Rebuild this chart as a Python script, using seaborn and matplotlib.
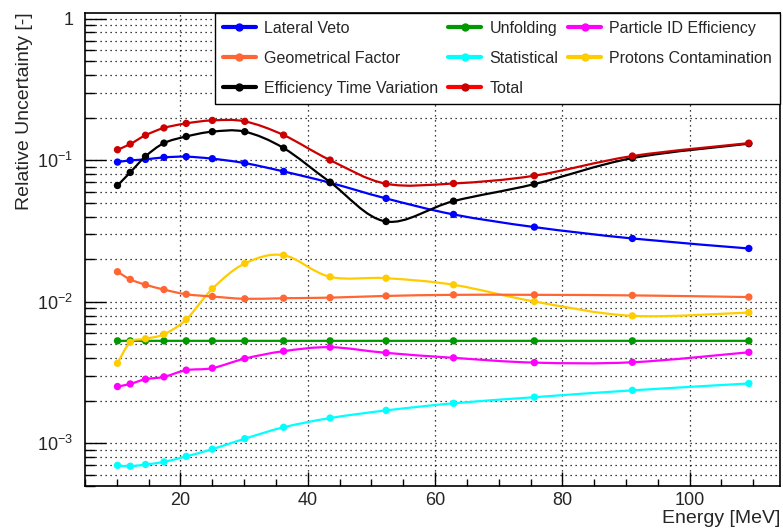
"""Incertezas relativas vs energia, estilo ROOT, com seaborn/matplotlib."""

import matplotlib

matplotlib.use("Agg")

import matplotlib.pyplot as plt
import matplotlib.ticker as mticker
import numpy as np
import pandas as pd
import seaborn as sns
from matplotlib.lines import Line2D
from matplotlib.patches import PathPatch
from matplotlib.path import Path

# dados
energy = [10.1, 12.1, 14.5, 17.4, 20.9, 25.0, 30.1, 36.2, 43.5, 52.3, 62.9, 75.6, 91.0, 109.3]

lateral_veto = [0.0970, 0.0997, 0.1013, 0.1047, 0.1059, 0.1025, 0.0954,
                0.0833, 0.0693, 0.0537, 0.0414, 0.0337, 0.0280, 0.0238]
geometrical_factor = [0.0163, 0.0144, 0.0132, 0.0122, 0.0113, 0.0109, 0.0105,
                      0.0106, 0.0107, 0.0110, 0.0112, 0.0112, 0.0111, 0.0108]
eff_time_variation = [0.0663, 0.0820, 0.1064, 0.1320, 0.1470, 0.1590, 0.1590,
                      0.1218, 0.0700, 0.0369, 0.0514, 0.0678, 0.1035, 0.1308]
unfolding = [0.0053, 0.0053, 0.0053, 0.0053, 0.0053, 0.0053, 0.0053,
             0.0053, 0.0053, 0.0053, 0.0053, 0.0053, 0.0053, 0.0053]
statistical = [0.00070, 0.00069, 0.00071, 0.00074, 0.00081, 0.00091, 0.00108,
               0.00130, 0.00151, 0.00171, 0.00192, 0.00212, 0.00237, 0.00265]
total = [0.1186, 0.1300, 0.1500, 0.1690, 0.1820, 0.1910, 0.1880,
         0.1505, 0.1002, 0.0682, 0.0685, 0.0777, 0.1070, 0.1320]
particle_id = [0.00252, 0.00263, 0.00284, 0.00295, 0.00329, 0.00340, 0.00397,
               0.00448, 0.00478, 0.00436, 0.00402, 0.00372, 0.00374, 0.00440]
protons = [0.00368, 0.00518, 0.00548, 0.00590, 0.00750, 0.01236, 0.01865,
           0.02134, 0.01500, 0.01468, 0.01319, 0.01005, 0.00796, 0.00840]

# ordem da legenda (preenchida por coluna)
series = [
    ("Lateral Veto", lateral_veto, "#0000ff", "#0000ff"),
    ("Geometrical Factor", geometrical_factor, "#ff6633", "#ff6633"),
    ("Efficiency Time Variation", eff_time_variation, "#000000", "#000000"),
    ("Unfolding", unfolding, "#009900", "#009900"),
    ("Statistical", statistical, "#00ffff", "#00ffff"),
    ("Total", total, "#cc0000", "#ff0000"),
    ("Particle ID Efficiency", particle_id, "#ff00ff", "#ff00ff"),
    ("Protons Contamination", protons, "#ffcc00", "#ffcc00"),
]
draw_order = ["Statistical", "Particle ID Efficiency", "Unfolding",
              "Protons Contamination", "Geometrical Factor", "Lateral Veto",
              "Efficiency Time Variation", "Total"]


def smooth_path(x, y):
    """Curva suave (Catmull-Rom -> Bezier) em (x, log10 y), como a opção 'C' do ROOT."""
    pts = np.column_stack([np.asarray(x, float), np.log10(y)])
    padded = np.vstack([pts[0], pts, pts[-1]])
    verts, codes = [pts[0]], [Path.MOVETO]
    for i in range(len(pts) - 1):
        p0, p1, p2, p3 = padded[i], padded[i + 1], padded[i + 2], padded[i + 3]
        verts += [p1 + (p2 - p0) / 6, p2 - (p3 - p1) / 6, p2]
        codes += [Path.CURVE4] * 3
    verts = np.array(verts)
    verts[:, 1] = 10 ** verts[:, 1]
    return Path(verts, codes)


sns.set_style("white")
plt.rcParams["font.family"] = ["Liberation Sans", "DejaVu Sans"]
plt.rcParams["mathtext.fontset"] = "custom"
plt.rcParams["mathtext.rm"] = "Liberation Sans"
plt.rcParams["mathtext.it"] = "Liberation Sans:italic"

df = pd.DataFrame(
    [(name, e, v) for name, vals, _, _ in series for e, v in zip(energy, vals)],
    columns=["source", "energy", "value"],
)
colors = {name: c for name, _, c, _ in series}
values = {name: v for name, v, _, _ in series}

fig, ax = plt.subplots(figsize=(7.83, 5.31), dpi=100)
fig.subplots_adjust(left=0.1086, right=0.9962, bottom=0.0847, top=0.976)

ax.set_yscale("log")
ax.set_xlim(5, 114.2)
ax.set_ylim(5e-4, 1.1)

for k, name in enumerate(draw_order):
    ax.add_patch(PathPatch(smooth_path(energy, values[name]), facecolor="none",
                           edgecolor=colors[name], lw=1.6, zorder=3 + 2 * k))
    sns.scatterplot(data=df[df["source"] == name], x="energy", y="value",
                    color=colors[name], s=28, edgecolor="none", legend=False,
                    ax=ax, zorder=4 + 2 * k)

# grade pontilhada estilo ROOT
ax.yaxis.set_major_locator(mticker.LogLocator(base=10))
ax.yaxis.set_minor_locator(mticker.LogLocator(base=10, subs=np.arange(2, 10)))
ax.yaxis.set_minor_formatter(mticker.NullFormatter())
ax.yaxis.set_major_formatter(mticker.FuncFormatter(
    lambda v, _: "1" if abs(v - 1) < 1e-9 else r"$10^{%d}$" % round(np.log10(v))))
ax.xaxis.set_major_locator(mticker.MultipleLocator(20))
ax.xaxis.set_minor_locator(mticker.MultipleLocator(5))

ax.set_axisbelow(True)
ax.grid(True, which="both", axis="y", color="black", linestyle=(0, (1, 3)), lw=0.9)
ax.grid(True, which="major", axis="x", color="black", linestyle=(0, (1, 3)), lw=0.9)

ax.tick_params(axis="both", which="both", direction="in", color="black",
               labelsize=13, width=1, bottom=True, left=True,
               top=False, right=False)
ax.tick_params(axis="x", which="major", length=10, pad=4)
ax.tick_params(axis="x", which="minor", length=5)
ax.tick_params(axis="y", which="major", length=15, pad=8.5)
ax.tick_params(axis="y", which="minor", length=7.5)
for sp in ax.spines.values():
    sp.set_color("black")
    sp.set_linewidth(1.2)

ax.set_xlabel("Energy [MeV]", fontsize=14, loc="right", labelpad=1)
ax.set_ylabel("Relative Uncertainty [-]", fontsize=14, loc="top", labelpad=3)

handles = [Line2D([], [], color=lc, lw=3, marker="o", markersize=5,
                  markerfacecolor=c, markeredgecolor=c)
           for _, _, c, lc in series]
leg = ax.legend(handles, [s[0] for s in series], ncol=3, loc="upper right",
                bbox_to_anchor=(1, 1), borderaxespad=0, fontsize=11.5,
                handlelength=2.1, handletextpad=0.5, columnspacing=0.6,
                labelspacing=0.95, borderpad=0.5, fancybox=False,
                frameon=True, framealpha=1, facecolor="white",
                edgecolor="black")
leg.get_frame().set_linewidth(1)
leg.set_zorder(30)

fig.savefig("out.png", dpi=100)
plt.close(fig)
